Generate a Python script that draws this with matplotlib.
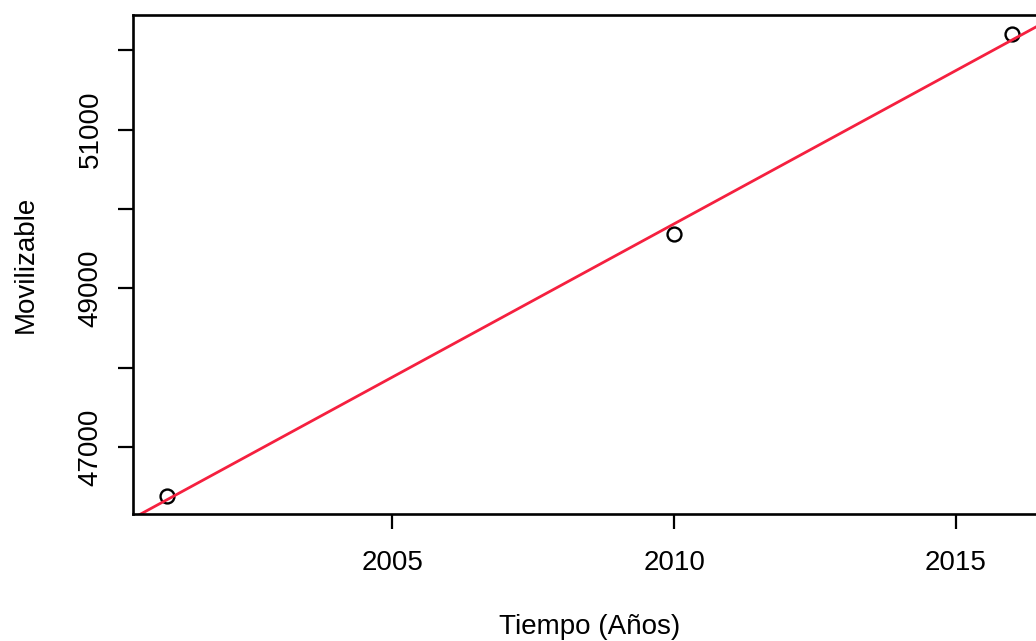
import numpy as np
import matplotlib
matplotlib.use('Agg')
import matplotlib.pyplot as plt

plt.rcParams['font.family'] = ['Liberation Sans', 'DejaVu Sans']

# Datos
anios = np.array([2001, 2010, 2016])
movilizable = np.array([46390, 49680, 52210])

# Recta de regresión ajustada a los puntos
pendiente, intercepto = np.polyfit(anios, movilizable, 1)

fig = plt.figure(figsize=(10.36, 6.41), dpi=100)
ax = fig.add_axes([0.1284, 0.198, 0.8813, 0.7785])

ax.plot(anios, movilizable, 'o', mfc='none', mec='black', ms=10, mew=1.7)

# Rango al estilo R (4% extra)
dx = (anios.max() - anios.min()) * 0.04
dy = (movilizable.max() - movilizable.min()) * 0.04
ax.set_xlim(anios.min() - dx, anios.max() + dx)
ax.set_ylim(movilizable.min() - dy, movilizable.max() + dy)

xs = np.array(ax.get_xlim())
ax.plot(xs, intercepto + pendiente * xs, color='#f5203f', lw=2)

ax.set_xticks([2005, 2010, 2015])
yt = [47000, 48000, 49000, 50000, 51000, 52000]
ax.set_yticks(yt)
ax.set_yticklabels([str(v) if v % 2000 == 1000 else '' for v in yt],
                   rotation=90, va='center')

ax.tick_params(axis='both', length=11, width=1.6, labelsize=20)
ax.tick_params(axis='x', pad=15)
ax.tick_params(axis='y', pad=10)
for s in ax.spines.values():
    s.set_linewidth(1.9)

ax.set_xlabel('Tiempo (Años)', fontsize=20, labelpad=27)
ax.set_ylabel('Movilizable', fontsize=20, labelpad=28)

fig.savefig('out.png', dpi=100)
